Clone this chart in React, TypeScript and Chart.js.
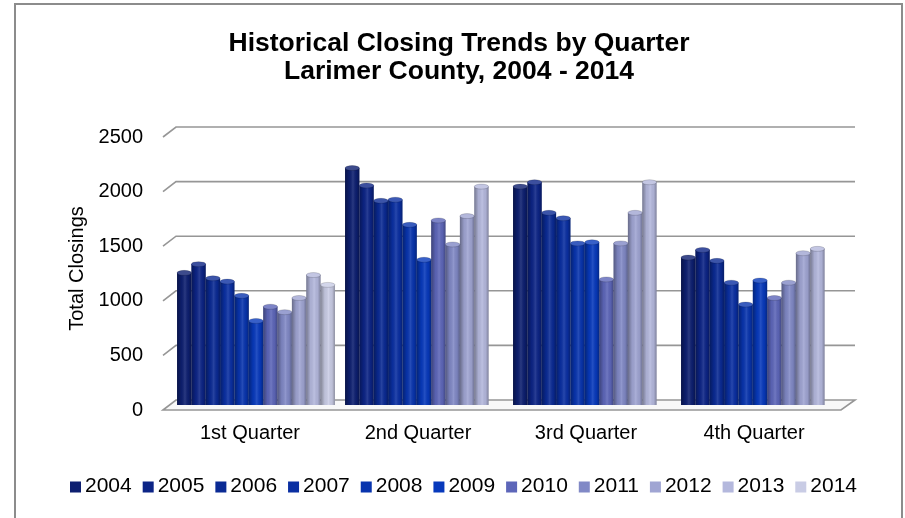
import React, { useEffect, useRef } from 'react';
import { Chart, registerables } from 'chart.js';

Chart.register(...registerables);

const titleLines = ['Historical Closing Trends by Quarter', 'Larimer County, 2004 - 2014'];
const yAxisTitle = 'Total Closings';
const categories = ['1st Quarter', '2nd Quarter', '3rd Quarter', '4th Quarter'];
const years = ['2004', '2005', '2006', '2007', '2008', '2009', '2010', '2011', '2012', '2013', '2014'];

const v2004 = [1210, 2170, 2000, 1350];
const v2005 = [1290, 2010, 2040, 1420];
const v2006 = [1160, 1870, 1760, 1320];
const v2007 = [1130, 1880, 1710, 1120];
const v2008 = [1000, 1650, 1480, 920];
const v2009 = [770, 1330, 1490, 1140];
const v2010 = [900, 1690, 1150, 980];
const v2011 = [850, 1470, 1480, 1120];
const v2012 = [980, 1730, 1760, 1390];
const v2013 = [1190, 2000, 2040, 1430];
const v2014 = [1100, null, null, null];

const seriesValues = [v2004, v2005, v2006, v2007, v2008, v2009, v2010, v2011, v2012, v2013, v2014];

const colors = [
  '#0d1f70', '#0c2486', '#0a2a94', '#0a2fa2', '#0834ae', '#0739bc',
  '#5d66b9', '#8189c6', '#a0a5d3', '#b4b8dd', '#c9cce5',
];

const FONT = "'Liberation Sans', Arial, Helvetica, sans-serif";

const decoPlugin = {
  id: 'deco',
  beforeDraw(chart: any) {
    const ctx = chart.ctx;
    ctx.save();
    ctx.fillStyle = '#ffffff';
    ctx.fillRect(0, 0, chart.width, chart.height);
    ctx.strokeStyle = '#8c8c8c';
    ctx.lineWidth = 2;
    ctx.beginPath();
    ctx.moveTo(15, chart.height + 4);
    ctx.lineTo(15, 4);
    ctx.lineTo(902, 4);
    ctx.lineTo(902, chart.height + 4);
    ctx.stroke();
    // title
    ctx.fillStyle = '#000';
    ctx.font = `bold 26.5px ${FONT}`;
    ctx.textAlign = 'center';
    ctx.textBaseline = 'middle';
    titleLines.forEach((t, i) => ctx.fillText(t, 459, 44 + i * 28));
    ctx.restore();
  },
  beforeDatasetsDraw(chart: any) {
    const { ctx, chartArea: a } = chart;
    const y = chart.scales.y;
    const d = 5;
    const backL = a.left + 4;
    const backR = a.right + 11;
    const frontL = a.left - 9;
    const y0 = y.getPixelForValue(0);
    ctx.save();
    ctx.strokeStyle = '#969696';
    ctx.lineWidth = 1.6;
    ctx.beginPath();
    ctx.moveTo(frontL, y0 + d);
    ctx.lineTo(backL, y0 - d);
    ctx.lineTo(backR, y0 - d);
    ctx.lineTo(backR - 14, y0 + d);
    ctx.closePath();
    ctx.fillStyle = '#f8f8f8';
    ctx.fill();
    ctx.stroke();
    y.ticks.forEach((t: any) => {
      if (t.value === 0) return;
      const py = y.getPixelForValue(t.value);
      ctx.beginPath();
      ctx.moveTo(frontL, py + d);
      ctx.lineTo(backL, py - d);
      ctx.lineTo(backR, py - d);
      ctx.stroke();
    });
    ctx.restore();
  },
  afterDatasetsDraw(chart: any) {
    const ctx = chart.ctx;
    ctx.save();
    chart.data.datasets.forEach((ds: any, i: number) => {
      const meta = chart.getDatasetMeta(i);
      meta.data.forEach((bar: any, j: number) => {
        const v = ds.data[j];
        if (v === null || v === undefined) return;
        const { x, y, base, width } = bar.getProps(['x', 'y', 'base', 'width'], true);
        const l = x - width / 2;
        const g = ctx.createLinearGradient(l, 0, l + width, 0);
        g.addColorStop(0, 'rgba(0,0,0,0.35)');
        g.addColorStop(0.3, 'rgba(0,0,0,0.05)');
        g.addColorStop(0.55, 'rgba(255,255,255,0.12)');
        g.addColorStop(0.8, 'rgba(0,0,0,0.05)');
        g.addColorStop(1, 'rgba(0,0,0,0.3)');
        ctx.fillStyle = g;
        ctx.fillRect(l, y, width, base - y);
        ctx.beginPath();
        ctx.ellipse(x, y, width / 2, 2.5, 0, 0, Math.PI * 2);
        ctx.fillStyle = ds.backgroundColor;
        ctx.fill();
        ctx.fillStyle = 'rgba(255,255,255,0.2)';
        ctx.fill();
        ctx.strokeStyle = 'rgba(0,0,0,0.25)';
        ctx.lineWidth = 0.6;
        ctx.stroke();
      });
    });
    ctx.restore();
  },
  afterDraw(chart: any) {
    const ctx = chart.ctx;
    ctx.save();
    ctx.font = `21px ${FONT}`;
    ctx.textBaseline = 'middle';
    ctx.textAlign = 'left';
    const box = 11;
    const gap = 4;
    const startX = 70;
    const endX = 857;
    const widths = chart.data.datasets.map((ds: any) => box + gap + ctx.measureText(ds.label).width);
    const total = widths.reduce((s: number, w: number) => s + w, 0);
    const spacing = (endX - startX - total) / (widths.length - 1);
    let x = startX;
    const cy = 487;
    chart.data.datasets.forEach((ds: any, i: number) => {
      ctx.fillStyle = ds.backgroundColor;
      ctx.fillRect(x, cy - box / 2, box, box);
      ctx.fillStyle = '#000';
      ctx.fillText(ds.label, x + box + gap, cy - 1);
      x += widths[i] + spacing;
    });
    ctx.restore();
  },
};

export default function App() {
  const ref = useRef<HTMLCanvasElement | null>(null);

  useEffect(() => {
    if (!ref.current) return;
    const datasets = years.map((yr, i) => ({
      label: yr,
      data: seriesValues[i],
      backgroundColor: colors[i],
      borderWidth: 0,
      categoryPercentage: 0.94,
      barPercentage: 1.0,
    }));
    const chart = new Chart(ref.current, {
      type: 'bar',
      data: { labels: categories, datasets },
      plugins: [decoPlugin],
      options: {
        animation: false,
        responsive: false,
        devicePixelRatio: 1,
        layout: { padding: { top: 132, left: 0, right: 61, bottom: 0 } },
        plugins: {
          legend: { display: false },
          tooltip: { enabled: false },
          title: { display: false },
        },
        scales: {
          x: {
            grid: { display: false, drawTicks: false },
            border: { display: false },
            ticks: {
              color: '#000',
              font: { family: FONT, size: 20 },
              padding: 16,
              labelOffset: -6,
            },
            afterFit: (s: any) => {
              s.height = 113;
            },
          },
          y: {
            min: 0,
            max: 2500,
            grid: { display: false, drawTicks: false },
            border: { display: false },
            ticks: {
              stepSize: 500,
              color: '#000',
              font: { family: FONT, size: 20 },
              padding: 29,
              labelOffset: 5,
              callback: (v: any) => String(v),
            },
            title: {
              display: true,
              text: yAxisTitle,
              color: '#000',
              font: { family: FONT, size: 20 },
              padding: { top: 65.5, bottom: 0 },
            },
            afterFit: (s: any) => {
              s.width = 172;
            },
          },
        },
      },
    });
    return () => chart.destroy();
  }, []);

  return (
    <div style={{ position: 'fixed', left: 0, top: 0, width: 905, height: 518, background: '#fff' }}>
      <canvas ref={ref} width={905} height={518} style={{ display: 'block' }} />
    </div>
  );
}
